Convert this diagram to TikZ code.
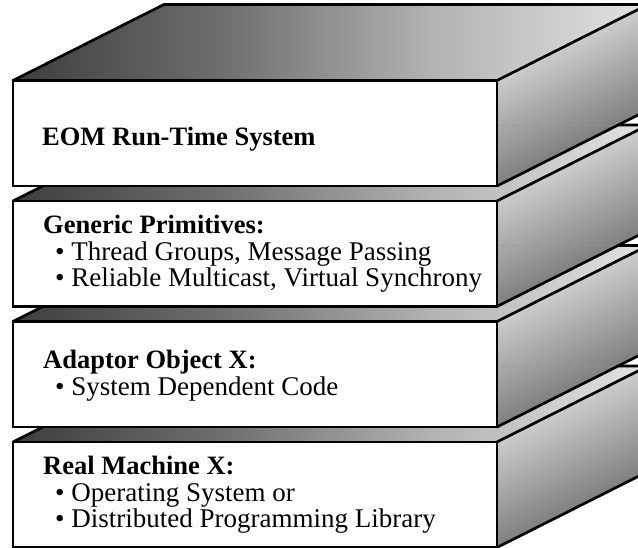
\documentclass[tikz,border=0pt]{standalone}
\usepackage{fontspec}
\setmainfont{Liberation Serif}

% top faces: dark at the left, fading to light grey at the right
\pgfdeclarehorizontalshading{slabtop}{100bp}{%
  color(0bp)=(black!76); color(25bp)=(black!76); color(42bp)=(black!56);
  color(58bp)=(black!30); color(75bp)=(black!11); color(100bp)=(black!11)}

\tikzset{
  edge/.style={line width=2.7pt, line join=round, line cap=round},
  frontface/.style={draw, fill=white, line width=2.7pt, minimum width=484pt,
    minimum height=105.5pt, inner sep=0pt, outer sep=0pt, anchor=north west},
  topface/.style={shading=slabtop},
  sideface/.style={top color=black!8, bottom color=black!62, shading angle=26.7},
  ghost/.style={black!40, line width=0.9pt, dash pattern=on 1.2pt off 1.2pt},
  head/.style={anchor=base west, inner sep=0pt,
    font=\fontsize{26.5}{26.5}\selectfont\bfseries},
  item/.style={anchor=base west, inner sep=0pt,
    font=\fontsize{27}{27}\selectfont},
}

% one slab: #1 name, #2 y of the front top edge, #3 slab underneath (or empty)
\newcommand\drawslab[3]{%
  \node[frontface] (#1) at (13,#2) {};
  \path (#1.north west) ++(151,76) coordinate (#1-tl)
        (#1.north east) ++(151,76) coordinate (#1-tr)
        (#1.south east) ++(151,76) coordinate (#1-br);
  \shade[topface] (#1.north west) -- (#1-tl) -- (#1-tr) -- (#1.north east) -- cycle;
  \shade[sideface] (#1.north east) -- (#1-tr) -- (#1-br) -- (#1.south east) -- cycle;
  \if\relax\detokenize{#3}\relax\else
    \begin{scope}
      \clip (#1.north east) -- (#1-tr) -- (#1-br) -- (#1.south east) -- cycle;
      \draw[ghost] (#3-tl) -- (#3-tr);
    \end{scope}
  \fi
  \draw[edge] (#1.south east) -- (#1-br) -- (#1-tr) -- (#1-tl) -- (#1.north west)
              (#1.north east) -- (#1-tr);
  \draw[edge] (#1.north west) rectangle (#1.south east);
}

\begin{document}
\begin{tikzpicture}[x=1pt, y=1pt]
  \useasboundingbox (0,0) rectangle (638,548);
  \clip (0,0) rectangle (638,548);
  \fill[white] (0,0) rectangle (638,548);

  % stack, drawn from the bottom slab upwards
  \drawslab{s4}{106}{}
  \drawslab{s3}{226.5}{s4}
  \drawslab{s2}{347}{s3}
  \drawslab{s1}{467.5}{s2}

  % labels
  \node[head] (t1)  at (42,402)   {EOM Run-Time System};
  \node[head] (t2)  at (43,314)   {Generic Primitives:};
  \node[item] (t2a) at (55,287.3) {•\ Thread Groups, Message Passing};
  \node[item] (t2b) at (55,261)   {•\ Reliable Multicast, Virtual Synchrony};
  \node[head] (t3)  at (43,179)   {Adaptor Object X:};
  \node[item] (t3a) at (55,152.5) {•\ System Dependent Code};
  \node[head] (t4)  at (43,73)    {Real Machine X:};
  \node[item] (t4a) at (55,46.5)  {•\ Operating System or};
  \node[item] (t4b) at (55,20)    {•\ Distributed Programming Library};
\end{tikzpicture}
\end{document}
